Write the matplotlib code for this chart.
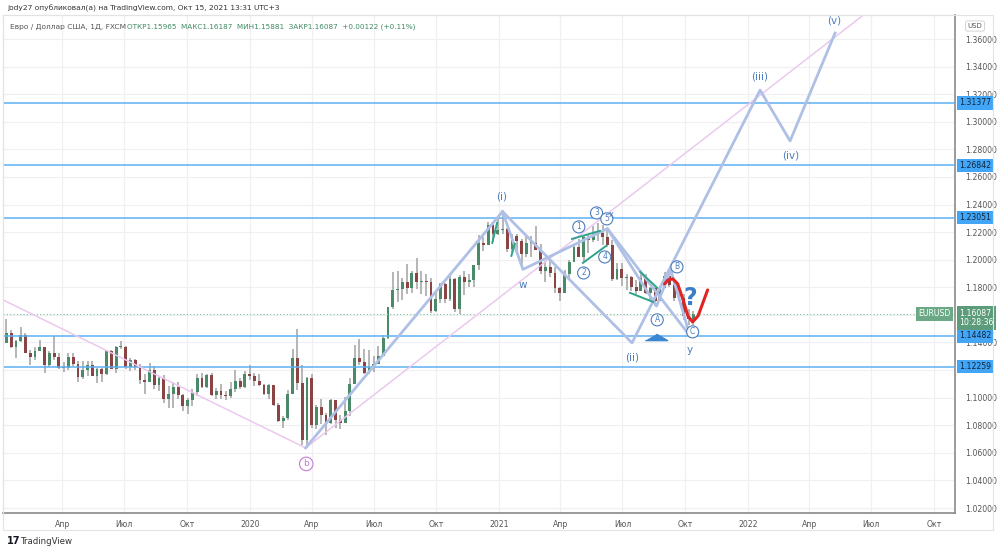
import matplotlib
matplotlib.use('Agg')
import matplotlib.pyplot as plt
import pandas as pd
from matplotlib.patches import Rectangle

# weekly EURUSD candles, week of 2018-12-31 .. week of 2021-10-11
first_open = 1.1440
closes = [1.1395, 1.1468, 1.1365, 1.1408, 1.1456, 1.1325, 1.1295, 1.1335, 1.1365, 1.1235,
          1.1325, 1.1298, 1.1218, 1.1215, 1.1295, 1.1245, 1.1150, 1.1200, 1.1235, 1.1157,
          1.1205, 1.1170, 1.1335, 1.1210, 1.1370, 1.1370, 1.1225, 1.1270, 1.1220, 1.1125,
          1.1110, 1.1200, 1.1090, 1.1140, 1.0990, 1.1030, 1.1075, 1.1018, 1.0940, 1.0980,
          1.1040, 1.1145, 1.1080, 1.1165, 1.1020, 1.1050, 1.1020, 1.1015, 1.1060, 1.1120,
          1.1080, 1.1175,
          1.1160, 1.1120, 1.1090, 1.1025, 1.1090, 1.0945, 1.0830, 1.0850, 1.1025, 1.1285,
          1.1105, 1.0695, 1.1140, 1.0805, 1.0935, 1.0875, 1.0820, 1.0980, 1.0840, 1.0820,
          1.0900, 1.1100, 1.1290, 1.1255, 1.1180, 1.1220, 1.1245, 1.1300, 1.1430, 1.1655,
          1.1780, 1.1785, 1.1840, 1.1795, 1.1905, 1.1835, 1.1845, 1.1840, 1.1630, 1.1715,
          1.1825, 1.1715, 1.1860, 1.1645, 1.1875, 1.1835, 1.1855, 1.1965, 1.2120, 1.2110,
          1.2255, 1.2185, 1.2215,
          1.2220, 1.2080, 1.2170, 1.2135, 1.2045, 1.2120, 1.2120, 1.2070, 1.1915, 1.1950,
          1.1905, 1.1795, 1.1760, 1.1900, 1.1985, 1.2095, 1.2020, 1.2165, 1.2145, 1.2180,
          1.2195, 1.2165, 1.2105, 1.1860, 1.1935, 1.1865, 1.1875, 1.1805, 1.1770, 1.1870,
          1.1760, 1.1795, 1.1700, 1.1795, 1.1880, 1.1815, 1.1725, 1.1720, 1.1595, 1.1570,
          1.1609]
highs = [1.1536, 1.1570, 1.1489, 1.1420, 1.1514, 1.1470, 1.1345, 1.1370, 1.1420, 1.1355,
         1.1340, 1.1448, 1.1325, 1.1255, 1.1324, 1.1323, 1.1265, 1.1265, 1.1263, 1.1265,
         1.1215, 1.1215, 1.1348, 1.1347, 1.1375, 1.1412, 1.1375, 1.1285, 1.1283, 1.1245,
         1.1175, 1.1250, 1.1230, 1.1160, 1.1165, 1.1085, 1.1110, 1.1110, 1.1025, 1.0999,
         1.1063, 1.1172, 1.1180, 1.1175, 1.1176, 1.1070, 1.1097, 1.1045, 1.1115, 1.1200,
         1.1145, 1.1190,
         1.1240, 1.1180, 1.1173, 1.1100, 1.1096, 1.1095, 1.0965, 1.0870, 1.1053, 1.1355,
         1.1496, 1.1236, 1.1147, 1.1170, 1.0950, 1.0990, 1.0890, 1.0990, 1.0975, 1.0875,
         1.1008, 1.1145, 1.1384, 1.1422, 1.1355, 1.1349, 1.1303, 1.1375, 1.1452, 1.1660,
         1.1908, 1.1916, 1.1865, 1.1966, 1.1920, 1.2011, 1.1918, 1.1900, 1.1870, 1.1770,
         1.1830, 1.1830, 1.1880, 1.1870, 1.1890, 1.1920, 1.1895, 1.1965, 1.2177, 1.2165,
         1.2273, 1.2260, 1.2310,
         1.2349, 1.2230, 1.2190, 1.2190, 1.2150, 1.2170, 1.2170, 1.2243, 1.2113, 1.1990,
         1.1990, 1.1945, 1.1800, 1.1928, 1.1995, 1.2117, 1.2150, 1.2170, 1.2180, 1.2245,
         1.2265, 1.2255, 1.2218, 1.2145, 1.1975, 1.1975, 1.1895, 1.1880, 1.1850, 1.1909,
         1.1900, 1.1805, 1.1805, 1.1810, 1.1909, 1.1885, 1.1845, 1.1750, 1.1755, 1.1640,
         1.1625]
lows = [1.1310, 1.1395, 1.1360, 1.1290, 1.1400, 1.1325, 1.1234, 1.1275, 1.1350, 1.1176,
        1.1220, 1.1275, 1.1210, 1.1183, 1.1200, 1.1226, 1.1111, 1.1135, 1.1160, 1.1155,
        1.1105, 1.1115, 1.1165, 1.1205, 1.1181, 1.1355, 1.1207, 1.1193, 1.1200, 1.1101,
        1.1027, 1.1152, 1.1066, 1.1052, 1.0965, 1.0926, 1.0927, 1.0990, 1.0905, 1.0879,
        1.0940, 1.1010, 1.1072, 1.1070, 1.1015, 1.0990, 1.0990, 1.0981, 1.1000, 1.1040,
        1.1066, 1.1070,
        1.1125, 1.1085, 1.1085, 1.1020, 1.0992, 1.0940, 1.0827, 1.0778, 1.0840, 1.1030,
        1.1055, 1.0655, 1.0636, 1.0780, 1.0770, 1.0812, 1.0727, 1.0810, 1.0782, 1.0775,
        1.0815, 1.0870, 1.1100, 1.1240, 1.1168, 1.1170, 1.1185, 1.1260, 1.1300, 1.1425,
        1.1640, 1.1695, 1.1710, 1.1755, 1.1760, 1.1790, 1.1755, 1.1737, 1.1612, 1.1620,
        1.1685, 1.1689, 1.1700, 1.1622, 1.1603, 1.1745, 1.1800, 1.1800, 1.1925, 1.2060,
        1.2105, 1.2130, 1.2180,
        1.2190, 1.2054, 1.2055, 1.2058, 1.1952, 1.2020, 1.2022, 1.2070, 1.1894, 1.1835,
        1.1874, 1.1762, 1.1704, 1.1760, 1.1870, 1.1990, 1.2017, 1.1985, 1.2052, 1.2130,
        1.2135, 1.2104, 1.2093, 1.1847, 1.1850, 1.1807, 1.1780, 1.1772, 1.1752, 1.1770,
        1.1755, 1.1705, 1.1664, 1.1700, 1.1795, 1.1800, 1.1700, 1.1700, 1.1563, 1.1530,
        1.1525]

levels = [1.31377, 1.26842, 1.23051, 1.14482, 1.12259]
last_price = 1.16087

# wave drawings (date, price)
main_dates = ['2020-03-23', '2021-01-06', '2021-07-15', '2022-01-19', '2022-03-04', '2022-05-09']
main_prices = [1.0636, 1.2349, 1.1397, 1.3230, 1.2861, 1.3643]
wxy_dates = ['2021-01-06', '2021-02-05', '2021-06-09', '2021-08-20', '2021-09-10', '2021-10-08']
wxy_prices = [1.2349, 1.1930, 1.2225, 1.1664, 1.1925, 1.1448]
xy_dates = ['2021-06-09', '2021-10-08']
xy_prices = [1.2225, 1.1448]
pink_dates = ['2019-01-01', '2020-03-23', '2022-06-29']
pink_prices = [1.1716, 1.0636, 1.3810]
teal_segments = [
    (['2020-12-22', '2020-12-29'], [1.2122, 1.2267]),
    (['2021-01-19', '2021-01-24'], [1.2028, 1.2115]),
    (['2021-04-18', '2021-05-29'], [1.2151, 1.2209]),
    (['2021-05-04', '2021-06-07'], [1.1977, 1.2100]),
    (['2021-07-27', '2021-08-21'], [1.1912, 1.1796]),
    (['2021-07-12', '2021-08-15'], [1.1760, 1.1694]),
]
red_dates = ['2021-09-01', '2021-09-06', '2021-09-13', '2021-09-20', '2021-09-28',
             '2021-10-05', '2021-10-12', '2021-10-20', '2021-10-27', '2021-11-03']
red_prices = [1.1825, 1.1854, 1.1861, 1.1825, 1.1709, 1.1593, 1.1549, 1.1593, 1.1687, 1.1781]

wave_labels = [('(i)', '2021-01-05', 1.2455), ('(ii)', '2021-07-15', 1.1289),
               ('(iii)', '2022-01-19', 1.3325), ('(iv)', '2022-03-05', 1.2752),
               ('(v)', '2022-05-08', 1.3735), ('w', '2021-02-05', 1.1817),
               ('y', '2021-10-08', 1.1346)]
circle_labels = [('1', '2021-04-28', 1.2238), ('2', '2021-05-05', 1.1904),
                 ('3', '2021-05-24', 1.2339), ('5', '2021-06-08', 1.2296),
                 ('4', '2021-06-05', 1.2020), ('A', '2021-08-21', 1.1564),
                 ('B', '2021-09-19', 1.1948), ('C', '2021-10-12', 1.1477)]

tick_dates = ['2019-04-01', '2019-07-01', '2019-10-01', '2020-01-01', '2020-04-01', '2020-07-01',
              '2020-10-01', '2021-01-01', '2021-04-01', '2021-07-01', '2021-10-01', '2022-01-01',
              '2022-04-01', '2022-07-01', '2022-10-01']
tick_labels = ['Апр', 'Июл', 'Окт', '2020', 'Апр', 'Июл', 'Окт', '2021', 'Апр', 'Июл', 'Окт',
               '2022', 'Апр', 'Июл', 'Окт']
price_ticks = [1.02 + 0.02 * i for i in range(18)]
hidden_ticks = [1.12, 1.16]  # covered by the level / last-price boxes in the original

D = pd.to_datetime

fig = plt.figure(figsize=(10, 5.53), dpi=100)
ax = fig.add_axes([0.003, 1 - 513 / 553, 0.952, 498 / 553])
ax.set_xlim(D('2019-01-04'), D('2022-11-01'))
ax.set_ylim(1.0164, 1.3774)

ax.set_xticks(D(tick_dates))
ax.set_xticklabels(tick_labels)
ax.set_yticks(price_ticks)
ax.set_yticklabels(['' if any(abs(p - h) < 1e-6 for h in hidden_ticks) else '%.5f' % p
                    for p in price_ticks])
ax.yaxis.tick_right()
ax.tick_params(axis='y', length=0, pad=7, labelsize=5.6, labelcolor='#555555')
ax.tick_params(axis='x', length=0, pad=5, labelsize=5.6, labelcolor='#555555')
ax.grid(True, color='#f0f0f3', lw=0.9)
ax.set_axisbelow(True)
for s in ['top', 'left']:
    ax.spines[s].set_color('#e6e6e6')
for s in ['bottom', 'right']:
    ax.spines[s].set_color('#8a8a8a')
    ax.spines[s].set_linewidth(1.2)

# candles
weeks = pd.date_range('2018-12-31', periods=len(closes), freq='7D') + pd.Timedelta(days=2)
opens = [first_open] + closes[:-1]
cols = ['#4a8a68' if c >= o else '#8a4444' for o, c in zip(opens, closes)]
ax.vlines(weeks, lows, highs, color='#a9a9a9', lw=1.2, zorder=2)
bottoms = [min(o, c) for o, c in zip(opens, closes)]
heights = [max(abs(c - o), 0.0006) for o, c in zip(opens, closes)]
ax.bar(weeks, heights, bottom=bottoms, width=4.2, color=cols, zorder=3)

# levels
for lv in levels:
    ax.axhline(lv, color='#5eb0f2', lw=1.1, zorder=4)
    ax.annotate('%.5f' % lv, xy=(1.0, lv), xycoords=('axes fraction', 'data'),
                xytext=(3, 0), textcoords='offset points', ha='left', va='center',
                fontsize=5.6, color='#10263c', annotation_clip=False, zorder=10,
                bbox=dict(boxstyle='square,pad=0.3', fc='#42a5f5', ec='none'))
ax.axhline(last_price, color='#7cbf9c', lw=0.8, ls=(0, (1, 2)), zorder=4)
ax.annotate('1.16087\n10:28:36', xy=(1.0, last_price), xycoords=('axes fraction', 'data'),
            xytext=(3, -3), textcoords='offset points', ha='left', va='center',
            fontsize=5.6, color='white', annotation_clip=False, zorder=10, linespacing=1.1,
            bbox=dict(boxstyle='square,pad=0.3', fc='#5d9c7b', ec='none'))
ax.annotate('EURUSD', xy=(1.0, last_price), xycoords=('axes fraction', 'data'),
            xytext=(-3, 0), textcoords='offset points', ha='right', va='center',
            fontsize=5.6, color='white', zorder=10,
            bbox=dict(boxstyle='square,pad=0.3', fc='#6aa886', ec='none'))

# drawings
ax.plot(D(pink_dates), pink_prices, color='#ecc8ef', lw=1.1, zorder=5)
wave_c = '#afc0e6'
ax.plot(D(main_dates), main_prices, color=wave_c, lw=2, zorder=5)
ax.plot(D(wxy_dates), wxy_prices, color=wave_c, lw=2, zorder=5)
ax.plot(D(xy_dates), xy_prices, color=wave_c, lw=2, zorder=5)
for dts, ps in teal_segments:
    ax.plot(D(dts), ps, color='#2fa38a', lw=1.4, zorder=6)
ax.plot(D(red_dates), red_prices, color='#e02424', lw=2.2, zorder=7, solid_capstyle='round')

lab_c = '#4c7dbd'
for t, d, p in wave_labels:
    ax.text(D(d), p, t, ha='center', va='center', fontsize=7.5, color=lab_c, zorder=8)
for t, d, p in circle_labels:
    ax.text(D(d), p, t, ha='center', va='center', fontsize=5.5, color=lab_c, zorder=8,
            bbox=dict(boxstyle='circle,pad=0.2', fc='white', ec=lab_c, lw=0.8))
ax.text(D('2021-06-14'), 1.2330, 'x', ha='center', va='center', fontsize=6, color=lab_c, zorder=8)
ax.text(D('2020-03-24'), 1.0520, 'b', ha='center', va='center', fontsize=6.5, color='#c27bd6',
        zorder=8, bbox=dict(boxstyle='circle,pad=0.25', fc='white', ec='#c27bd6', lw=0.8))
ax.text(D('2021-10-08'), 1.1723, '?', ha='center', va='center', fontsize=17, fontweight='bold',
        color='#3a7fc6', zorder=8)
ax.plot(D(['2021-08-19']), [1.1441], marker=[(-1, -0.28), (1, -0.28), (0, 0.3)],
        markersize=16, color='#3b86d0', zorder=8)

# header / footer
fig.text(0.007, 1 - 8 / 553, 'jody27 опубликовал(а) на TradingView.com, Окт 15, 2021 13:31 UTC+3',
         fontsize=5.4, color='#333333', va='center')
fig.text(0.010, 1 - 27 / 553, 'Евро / Доллар США, 1Д, FXCM', fontsize=5.4, color='#555555', va='center')
fig.text(0.127, 1 - 27 / 553,
         'ОТКР1.15965  МАКС1.16187  МИН1.15881  ЗАКР1.16087  +0.00122 (+0.11%)',
         fontsize=5.2, color='#3f8a62', va='center')
fig.text(0.975, 1 - 26 / 553, 'USD', fontsize=5, color='#555555', ha='center', va='center',
         bbox=dict(boxstyle='round,pad=0.3', fc='white', ec='#cccccc', lw=0.6))
fig.patches.append(Rectangle((0.003, 1 - 530 / 553), 0.99, 515 / 553, transform=fig.transFigure,
                             fill=False, ec='#e3e3e3', lw=0.8))
fig.text(0.007, 1 - 541 / 553, '17', fontsize=7, fontweight='bold', color='#131722', va='center')
fig.text(0.021, 1 - 541 / 553, 'TradingView', fontsize=6.2, color='#333333', va='center')

fig.savefig('out.png', dpi=100)
